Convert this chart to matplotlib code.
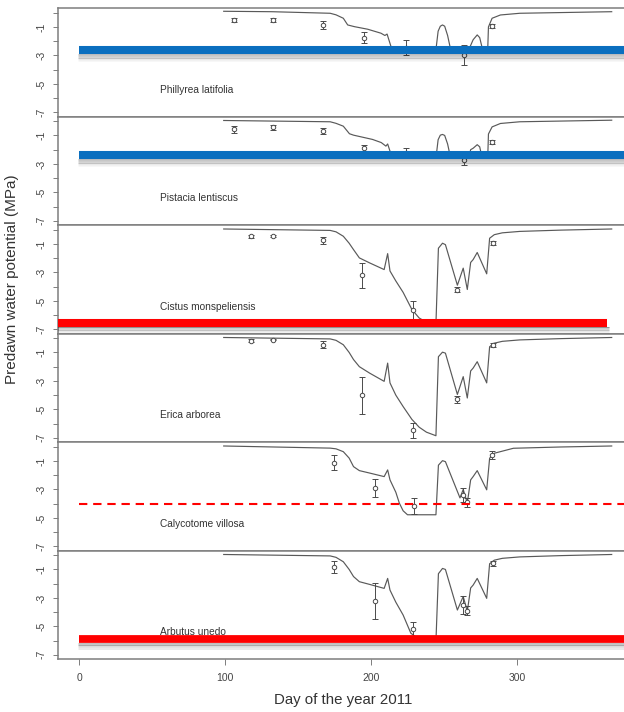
import matplotlib.pyplot as plt

plt.rcParams['font.family'] = ['Liberation Sans', 'DejaVu Sans']

species = ['Phillyrea latifolia', 'Pistacia lentiscus', 'Cistus monspeliensis',
           'Erica arborea', 'Calycotome villosa', 'Arbutus unedo']

# simulated predawn water potential (day of year, MPa)
sim_phillyrea_day = [99, 132, 172, 176, 181, 184, 188.6, 197.7, 206.8, 209.5, 211, 213.7, 216,
                     244.5, 246, 247.5, 249, 250.5, 252.5, 254.6, 267, 270, 272.8, 274.5, 276.5,
                     280, 280.5, 283, 288.7, 302, 365]
sim_phillyrea_psi = [0.1, 0.07, -0.04, -0.15, -0.39, -0.86, -0.98, -1.16, -1.44, -1.6, -1.5, -2.38, -2.6,
                     -2.6, -1.3, -0.95, -0.86, -0.95, -1.6, -2.6, -2.6, -1.9, -1.56, -1.75, -2.6,
                     -2.6, -1.0, -0.39, -0.16, -0.04, 0.07]

sim_pistacia_day = [99, 172, 176, 181, 185.2, 188, 201, 207, 210.2, 211.4, 213, 215,
                    244.5, 246, 247.5, 249, 250.5, 252.5, 254.6, 267, 268.3, 270, 272.8, 274.5, 276.2,
                    280, 280.5, 283, 288.7, 302, 365]
sim_pistacia_psi = [0.05, -0.04, -0.15, -0.35, -0.88, -0.98, -1.28, -1.5, -1.75, -1.6, -2.1, -2.6,
                    -2.6, -1.3, -0.98, -0.93, -1.0, -1.6, -2.6, -2.6, -2.0, -1.9, -1.65, -1.8, -2.6,
                    -2.6, -0.9, -0.4, -0.16, -0.04, 0.07]

sim_cistus_day = [99, 172, 176, 181, 185, 188, 192, 199, 209, 211.4, 213, 217, 222, 228, 233, 238,
                  244.5, 246.2, 249, 251, 259.2, 263.2, 266, 268.3, 270, 272.8, 279.3, 281.3,
                  284.5, 290, 302, 330, 365]
sim_cistus_psi = [0.05, -0.05, -0.15, -0.46, -0.95, -1.4, -1.98, -2.33, -2.8, -1.68, -2.9, -3.6, -4.4,
                  -5.6, -6.2, -6.5, -6.6, -1.3, -0.95, -1.05, -3.9, -2.7, -4.2, -2.3, -2.1, -1.6,
                  -3.1, -0.6, -0.35, -0.22, -0.12, -0.03, 0.05]

sim_erica_day = [99, 172, 176, 181, 185, 188, 192, 199, 209, 211.4, 213, 217, 222, 228, 233, 238,
                 244.5, 246.2, 249, 251, 259.2, 263.2, 266, 268.3, 270, 272.8, 279.3, 281.3,
                 284.5, 290, 302, 330, 365]
sim_erica_psi = [0.05, -0.05, -0.15, -0.46, -1.0, -1.5, -2.0, -2.45, -3.03, -1.75, -3.14, -4.0, -4.8,
                 -5.7, -6.25, -6.6, -6.85, -1.3, -0.98, -1.05, -3.95, -2.7, -4.2, -2.3, -2.1, -1.65,
                 -3.14, -0.6, -0.35, -0.22, -0.12, -0.03, 0.05]

sim_calycotome_day = [99, 172, 176, 181, 185, 188, 192, 199, 209, 211.4, 213, 217, 219.4, 222, 225,
                      244.5, 246.2, 249, 251, 261, 263.2, 266, 268.3, 270, 272.8, 279.3, 281.3,
                      284.5, 297.6, 330, 365]
sim_calycotome_psi = [0.05, -0.1, -0.15, -0.35, -0.8, -1.4, -1.68, -1.85, -2.1, -1.63, -2.33, -3.2,
                      -3.96, -4.5, -4.78, -4.78, -1.3, -0.98, -1.05, -3.6, -3.0, -3.95, -2.33, -2.1,
                      -1.68, -3.03, -0.81, -0.46, -0.11, -0.02, 0.05]

sim_arbutus_day = [99, 172, 176, 181, 185, 188, 192, 199, 209, 211.4, 213, 217, 222, 227.3, 233, 238,
                   244.5, 246.2, 249, 251, 259.2, 263.2, 266, 268.3, 270, 272.8, 279.3, 281.3,
                   284.5, 290, 302, 330, 365]
sim_arbutus_psi = [0.05, -0.05, -0.15, -0.46, -1.0, -1.5, -1.86, -2.05, -2.33, -1.63, -2.45, -3.3, -4.2,
                   -5.48, -5.9, -6.0, -6.05, -1.3, -0.93, -1.0, -3.85, -2.9, -3.95, -2.3, -2.1, -1.63,
                   -3.03, -0.6, -0.35, -0.22, -0.12, -0.03, 0.05]

# measured predawn water potential: mean and standard deviation
obs_phillyrea_day = [106, 133, 167, 195, 224, 263.5, 283]
obs_phillyrea_psi = [-0.5, -0.5, -0.86, -1.75, -2.45, -2.96, -0.91]
obs_phillyrea_sd = [0.12, 0.15, 0.3, 0.38, 0.55, 0.7, 0.15]

obs_pistacia_day = [106, 133, 167, 195, 224, 263.5, 283]
obs_pistacia_psi = [-0.58, -0.42, -0.7, -1.86, -2.2, -2.7, -1.44]
obs_pistacia_sd = [0.22, 0.18, 0.22, 0.2, 0.3, 0.35, 0.15]

obs_cistus_day = [118, 133, 167, 194, 229, 259, 283.5]
obs_cistus_psi = [-0.46, -0.46, -0.74, -3.21, -5.64, -4.2, -0.93]
obs_cistus_sd = [0.1, 0.06, 0.25, 0.9, 0.6, 0.2, 0.15]

obs_erica_day = [118, 133, 167, 194, 229, 259, 283.5]
obs_erica_psi = [-0.18, -0.11, -0.46, -4.0, -6.48, -4.3, -0.46]
obs_erica_sd = [0.1, 0.05, 0.25, 1.3, 0.55, 0.25, 0.15]

obs_calycotome_day = [174.5, 202.5, 229.5, 263, 266, 283]
obs_calycotome_psi = [-1.12, -2.91, -4.15, -3.4, -3.9, -0.58]
obs_calycotome_sd = [0.52, 0.64, 0.55, 0.5, 0.3, 0.25]

obs_arbutus_day = [174.5, 202.5, 229, 263, 265.5, 283.5]
obs_arbutus_psi = [-0.81, -3.21, -5.17, -3.5, -3.9, -0.58]
obs_arbutus_sd = [0.43, 1.28, 0.5, 0.6, 0.3, 0.15]

# threshold water potential for each species (None = no line)
threshold_psi = [-2.65, -2.4, -6.52, None, -4.0, -5.9]

sims = [(sim_phillyrea_day, sim_phillyrea_psi), (sim_pistacia_day, sim_pistacia_psi),
        (sim_cistus_day, sim_cistus_psi), (sim_erica_day, sim_erica_psi),
        (sim_calycotome_day, sim_calycotome_psi), (sim_arbutus_day, sim_arbutus_psi)]
obs = [(obs_phillyrea_day, obs_phillyrea_psi, obs_phillyrea_sd),
       (obs_pistacia_day, obs_pistacia_psi, obs_pistacia_sd),
       (obs_cistus_day, obs_cistus_psi, obs_cistus_sd),
       (obs_erica_day, obs_erica_psi, obs_erica_sd),
       (obs_calycotome_day, obs_calycotome_psi, obs_calycotome_sd),
       (obs_arbutus_day, obs_arbutus_psi, obs_arbutus_sd)]

xlim = (-14.6, 379.6)
ylim = (-7.29, 0.33)

blue = '#0b6fbf'
red = '#ff0000'
thr_style = [
    dict(color=blue, lw=5.8, start=0, end=xlim[1], shadow=True, ls='-'),
    dict(color=blue, lw=5.8, start=0, end=xlim[1], shadow=True, ls='-'),
    dict(color=red, lw=5.8, start=xlim[0], end=362, shadow=True, ls='-'),
    None,
    dict(color=red, lw=1.5, start=0, end=xlim[1], shadow=False, ls=(0, (4, 2.8))),
    dict(color=red, lw=5.6, start=0, end=xlim[1], shadow=True, ls='-'),
]

W, H = 624, 712
fig = plt.figure(figsize=(W / 100, H / 100), dpi=100)
left_px, right_px = 58, 633
top_px, bot_px = 8, 659
ph = (bot_px - top_px) / 6
frame = '#7d7d7d'
ink = '#4a4a4a'

for i in range(6):
    y_bottom = top_px + ph * (i + 1)
    ax = fig.add_axes([left_px / W, 1 - y_bottom / H, (right_px - left_px) / W, ph / H])
    ax.set_xlim(*xlim)
    ax.set_ylim(*ylim)

    d, p = sims[i]
    ax.plot(d, p, color='#595959', lw=0.85, zorder=2)

    od, op, osd = obs[i]
    ax.errorbar(od, op, yerr=osd, fmt='o', ms=3.2, mfc='white', mec=ink, mew=0.7,
                ecolor=ink, elinewidth=0.7, capsize=2.2, capthick=0.7, zorder=3)

    ax.text(55, -5.42, species[i], ha='left', va='center', fontsize=7.3, color='#333333')

    st = thr_style[i]
    if st is not None:
        v = threshold_psi[i]
        if st['shadow']:
            # soft drop shadow under the thick bar
            half = st['lw'] / 0.72 / 2 / 14.3
            for k in range(0, 9):
                ax.plot([st['start'] - 1, st['end'] + 1], [v - half - k * 0.055] * 2,
                        color='black', alpha=0.3 * (1 - k / 9), lw=0.6,
                        solid_capstyle='butt', zorder=4)
        ax.plot([st['start'], st['end']], [v, v], color=st['color'], lw=st['lw'],
                ls=st['ls'], solid_capstyle='butt', zorder=5)

    ax.set_yticks(range(-7, 1))
    ax.set_yticklabels(['-%d' % abs(t) if t % 2 else '' for t in range(-7, 1)])
    ax.tick_params(axis='y', length=3.6, width=0.7, color=frame, labelrotation=90,
                   labelsize=7.5, labelcolor='#444444', pad=5)
    for lab in ax.get_yticklabels():
        lab.set_va('center')

    if i == 5:
        ax.set_xticks([0, 100, 200, 300])
        ax.tick_params(axis='x', length=4.3, width=0.7, color=frame,
                       labelsize=7.5, labelcolor='#444444', pad=6)
    else:
        ax.set_xticks([])

    for s in ax.spines.values():
        s.set_color(frame)
        s.set_linewidth(1.1)

fig.text(343 / W, 1 - 700 / H, 'Day of the year 2011', ha='center', va='center',
         fontsize=10.8, color='#333333')
fig.text(12 / W, 1 - 279 / H, 'Predawn water potential (MPa)', ha='center', va='center',
         rotation=90, fontsize=11, color='#333333')

fig.savefig('out.png', dpi=100)
